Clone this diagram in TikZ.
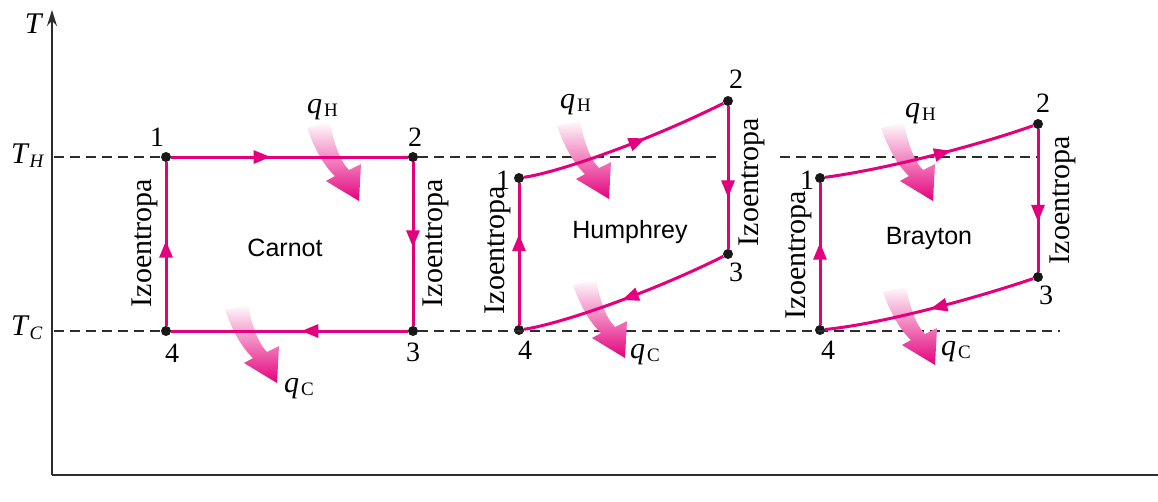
\documentclass[tikz,border=0pt]{standalone}
\usepackage{fontspec}
\setmainfont{Liberation Serif}
\newfontfamily\sansf{Liberation Sans}
\usetikzlibrary{arrows.meta,decorations.markings}
\definecolor{mag}{RGB}{228,0,124}
\definecolor{axc}{RGB}{45,45,45}
\begin{document}
\begin{tikzpicture}[x=1pt,y=-1pt,
  axisln/.style={line width=1.7pt, axc},
  dashln/.style={line width=1.6pt, axc, dash pattern=on 10pt off 6pt},
  cyc/.style={line width=3pt, mag},
  dot/.style={circle, fill=black!90, inner sep=0pt, minimum size=10pt},
  num/.style={font=\fontsize{28}{28}\selectfont, inner sep=0pt},
  izo/.style={font=\fontsize{30}{30}\selectfont, rotate=90, inner sep=0pt},
  cname/.style={font=\sansf\fontsize{25}{25}\selectfont, inner sep=0pt},
  qlab/.style={font=\fontsize{30}{30}\selectfont, inner sep=0pt, anchor=base west},
  tlab/.style={font=\fontsize{30}{30}\selectfont, inner sep=0pt},
  midarr/.style={postaction=decorate, decoration={markings, mark=at position #1 with {\arrow{Triangle[length=17pt,width=13pt]}}}},
  heat/.pic={\shade[top color=mag!2, middle color=mag!50, bottom color=mag]
     (-12,-2) .. controls (-5,18) and (5,36) .. (16,46) -- (7,51) -- (40,71) -- (42,34) -- (30,40)
     .. controls (20,30) and (15,12) .. (11,-7) -- cycle;}
]
\useasboundingbox (0,0) rectangle (1158,501);

% axes
\coordinate (O) at (52,475);
\coordinate (Ytop) at (52,10);
\coordinate (Xend) at (1158,475);
\draw[axisln, -{Stealth[length=16pt,width=10pt]}] (O) -- (Ytop);
\draw[axisln] (O) -- (Xend);
\node[tlab] (T) at (34,24) {\textit{T}};
\node[tlab, anchor=base west] (TH) at (11,163) {\textit{T}\raisebox{-0.3ex}{\fontsize{19}{19}\selectfont\textit{H}}};
\node[tlab, anchor=base west] (TC) at (11,335) {\textit{T}\raisebox{-0.3ex}{\fontsize{19}{19}\selectfont\textit{C}}};

% points
\node[dot] (c1) at (166,157) {};
\node[dot] (c2) at (413,157) {};
\node[dot] (c3) at (413,331) {};
\node[dot] (c4) at (166,331) {};
\node[dot] (h1) at (519,178) {};
\node[dot] (h2) at (728,101) {};
\node[dot] (h3) at (728,254) {};
\node[dot] (h4) at (519,330) {};
\node[dot] (b1) at (820,178) {};
\node[dot] (b2) at (1038,124) {};
\node[dot] (b3) at (1038,277) {};
\node[dot] (b4) at (820,330) {};

% dashed levels
\coordinate (thA) at (54,157);
\coordinate (thB) at (720,157);
\coordinate (thC) at (780,157);
\coordinate (thD) at (1037,157);
\coordinate (tcA) at (54,331);
\coordinate (tcB) at (1060,331);
\draw[dashln] (thA) -- (c1);
\draw[dashln] (c2) -- (thB);
\draw[dashln] (thC) -- (thD);
\draw[dashln] (tcA) -- (c4);
\draw[dashln] (c3) -- (tcB);

% heat arrows
\pic at (319,130) {heat};
\pic at (237,312) {heat};
\pic at (569,128) {heat};
\pic at (585,287) {heat};
\pic at (893,130) {heat};
\pic at (895,294) {heat};

% Carnot
\draw[cyc, midarr=0.42] (c1) -- (c2);
\draw[cyc, midarr=0.52] (c2) -- (c3);
\draw[cyc, midarr=0.45] (c3) -- (c4);
\draw[cyc, midarr=0.52] (c4) -- (c1);
% Humphrey
\draw[cyc, midarr=0.6] (h1) .. controls (560,172) and (650,140) .. (h2);
\draw[cyc, midarr=0.64] (h2) -- (h3);
\draw[cyc, midarr=0.52] (h3) .. controls (650,293) and (560,324) .. (h4);
\draw[cyc, midarr=0.64] (h4) -- (h1);
% Brayton
\draw[cyc, midarr=0.6] (b1) .. controls (880,170) and (970,148) .. (b2);
\draw[cyc, midarr=0.65] (b2) -- (b3);
\draw[cyc, midarr=0.5] (b3) .. controls (970,300) and (880,324) .. (b4);
\draw[cyc, midarr=0.58] (b4) -- (b1);

% numbers
\node[num] (n1c) at (157,137) {1};
\node[num] (n2c) at (415,137) {2};
\node[num] (n3c) at (413,352) {3};
\node[num] (n4c) at (172,353) {4};
\node[num] (n1h) at (503,180) {1};
\node[num] (n2h) at (736,79) {2};
\node[num] (n3h) at (736,272) {3};
\node[num] (n4h) at (525,350) {4};
\node[num] (n1b) at (807,180) {1};
\node[num] (n2b) at (1043,103) {2};
\node[num] (n3b) at (1046,295) {3};
\node[num] (n4b) at (828,350) {4};

% isentrope labels
\node[izo] (iz1) at (145,243) {Izoentropa};
\node[izo] (iz2) at (436,243) {Izoentropa};
\node[izo] (iz3) at (498,250) {Izoentropa};
\node[izo] (iz4) at (752,182) {Izoentropa};
\node[izo] (iz5) at (799,255) {Izoentropa};
\node[izo] (iz6) at (1063,200) {Izoentropa};

% cycle names
\node[cname] (carnot) at (285,248) {Carnot};
\node[cname] (humph) at (630,232) {Humphrey};
\node[cname] (brayt) at (929,238) {Brayton};

% heat labels
\node[qlab] (qh1) at (307,113) {\textit{q}\hspace{2pt}\raisebox{-0.25ex}{\fontsize{19}{19}\selectfont H}};
\node[qlab] (qh2) at (560,108) {\textit{q}\hspace{2pt}\raisebox{-0.25ex}{\fontsize{19}{19}\selectfont H}};
\node[qlab] (qh3) at (905,117) {\textit{q}\hspace{2pt}\raisebox{-0.25ex}{\fontsize{19}{19}\selectfont H}};
\node[qlab] (qc1) at (284,392) {\textit{q}\hspace{2pt}\raisebox{-0.25ex}{\fontsize{19}{19}\selectfont C}};
\node[qlab] (qc2) at (630,358) {\textit{q}\hspace{2pt}\raisebox{-0.25ex}{\fontsize{19}{19}\selectfont C}};
\node[qlab] (qc3) at (941,355) {\textit{q}\hspace{2pt}\raisebox{-0.25ex}{\fontsize{19}{19}\selectfont C}};
\end{tikzpicture}
\end{document}
